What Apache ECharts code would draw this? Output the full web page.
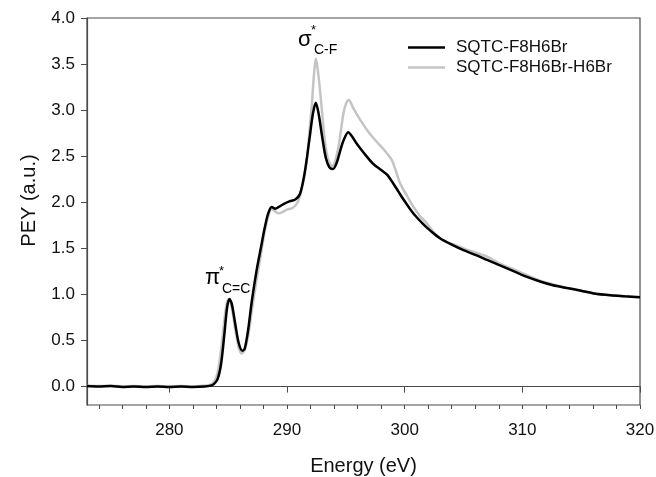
<!DOCTYPE html>
<html>
<head>
<meta charset="utf-8">
<script src="https://cdn.jsdelivr.net/npm/echarts@6/dist/echarts.min.js"></script>
<style>
html,body{margin:0;padding:0;background:#fff;}
#chart{width:656px;height:477px;}
</style>
</head>
<body>
<div id="chart"></div>
<script>
// ---- data ----
const seriesNames = ['SQTC-F8H6Br', 'SQTC-F8H6Br-H6Br'];

const energyA = [273.0,274.0,275.0,276.0,277.0,278.0,279.0,280.0,281.0,282.0,283.0,283.5,283.8,284.1,284.4,284.7,284.9,285.1,285.3,285.6,285.9,286.2,286.4,286.7,287.0,287.4,287.8,288.1,288.4,288.7,289.0,289.3,289.7,290.2,290.7,291.1,291.5,291.9,292.2,292.45,292.7,293.0,293.3,293.6,293.9,294.2,294.5,294.8,295.2,295.5,295.9,296.5,297.3,298.0,298.5,299.0,299.5,299.9,300.5,301.0,301.6,302.2,303.0,304.0,305.0,306.0,307.0,308.0,309.3,310.4,311.5,312.6,313.8,315.0,316.1,317.5,318.7,320.0];
const peyA = [0.005,0.0,0.005,-0.005,0.0,-0.005,0.0,-0.005,0.0,-0.005,0.0,0.01,0.03,0.08,0.25,0.60,0.85,0.95,0.90,0.68,0.47,0.39,0.41,0.62,0.92,1.25,1.52,1.72,1.88,1.95,1.93,1.95,1.98,2.01,2.03,2.09,2.32,2.68,2.96,3.08,2.95,2.70,2.48,2.38,2.36,2.42,2.55,2.67,2.76,2.72,2.64,2.54,2.42,2.35,2.30,2.21,2.11,2.03,1.92,1.84,1.76,1.69,1.61,1.54,1.48,1.43,1.375,1.32,1.25,1.19,1.14,1.10,1.07,1.04,1.01,0.99,0.98,0.97];

const energyB = [273.0,274.0,275.0,276.0,277.0,278.0,279.0,280.0,281.0,282.0,283.0,283.5,283.8,284.1,284.4,284.7,284.9,285.05,285.3,285.6,285.9,286.15,286.4,286.7,287.0,287.4,287.8,288.1,288.4,288.7,289.0,289.3,289.7,290.0,290.5,290.9,291.2,291.5,291.7,291.9,292.1,292.3,292.45,292.6,292.8,293.0,293.2,293.5,293.85,294.1,294.4,294.8,295.05,295.25,295.6,296.0,296.5,297.0,297.6,298.1,298.5,298.9,299.2,299.6,300.2,300.75,301.3,301.9,302.5,303.2,304.0,305.0,306.0,307.0,308.0,309.3,310.4,311.5,312.6,313.8,315.0,316.1,317.5,318.7,320.0];
const peyB = [0.01,0.005,0.01,0.0,0.005,0.0,0.005,0.0,0.005,0.0,0.01,0.02,0.05,0.15,0.40,0.75,0.92,0.95,0.86,0.62,0.42,0.36,0.40,0.55,0.82,1.15,1.45,1.68,1.85,1.93,1.90,1.88,1.90,1.92,1.94,2.00,2.12,2.30,2.48,2.76,3.04,3.40,3.56,3.45,3.22,2.95,2.68,2.46,2.39,2.45,2.62,2.97,3.08,3.11,3.03,2.94,2.84,2.75,2.66,2.59,2.53,2.46,2.36,2.21,2.07,1.95,1.85,1.77,1.67,1.59,1.55,1.50,1.455,1.41,1.34,1.27,1.21,1.15,1.11,1.07,1.04,1.01,0.99,0.98,0.97];

const xLabelValues = [280, 290, 300, 310, 320];
const xMinorTickValues = [274,276,278,280,282,284,286,288,290,292,294,296,298,300,302,304,306,308,310,312,314,316,318,320];
const yLabelValues = [0, 0.5, 1.0, 1.5, 2.0, 2.5, 3.0, 3.5, 4.0];

// ---- chart ----
const FONT = '"Liberation Sans", Arial, sans-serif';
const AXIS_COLOR = '#4a4a4a';
const pairs = (xs, ys) => xs.map((x, i) => [x, ys[i]]);

const chart = echarts.init(document.getElementById('chart'), null, {renderer: 'canvas'});
chart.setOption({
  animation: false,
  backgroundColor: '#fff',
  textStyle: {fontFamily: FONT},
  grid: {left: 87, right: 16, top: 18, bottom: 72, show: true, borderColor: AXIS_COLOR, borderWidth: 1.2,
    containLabel: false, outerBoundsMode: 'none'},
  legend: {
    data: seriesNames,
    orient: 'vertical',
    left: 408, top: 39,
    padding: 0,
    icon: 'rect',
    itemWidth: 37, itemHeight: 2.5, itemGap: 3,
    textStyle: {fontSize: 17, color: '#111', fontFamily: FONT, padding: [0, 0, 0, 6]}
  },
  xAxis: [{
    type: 'value', min: 273, max: 320,
    name: 'Energy (eV)', nameLocation: 'middle', nameGap: 51,
    nameTextStyle: {fontSize: 20, color: '#111', fontFamily: FONT},
    axisLine: {show: true, lineStyle: {color: AXIS_COLOR, width: 1.2}},
    axisTick: {show: true, inside: false, length: 6, customValues: xLabelValues, lineStyle: {color: AXIS_COLOR}},
    axisLabel: {customValues: xLabelValues, margin: 17, fontSize: 17, color: '#111', fontFamily: FONT},
    splitLine: {show: false}
  }, {
    type: 'value', min: 273, max: 320, position: 'bottom',
    axisLine: {show: false},
    axisTick: {show: true, inside: false, length: 4, customValues: xMinorTickValues, lineStyle: {color: AXIS_COLOR}},
    axisLabel: {show: false},
    splitLine: {show: false}
  }],
  yAxis: {
    type: 'value', min: -0.2, max: 4.0,
    name: 'PEY (a.u.)', nameLocation: 'middle', nameGap: 48, nameRotate: 90,
    nameTextStyle: {fontSize: 20, color: '#111', fontFamily: FONT, padding: [0, 0, 0, 22]},
    axisLine: {show: true, lineStyle: {color: AXIS_COLOR, width: 1.2}},
    axisTick: {show: true, inside: false, length: 6, customValues: yLabelValues, lineStyle: {color: AXIS_COLOR}},
    axisLabel: {customValues: yLabelValues, margin: 12, fontSize: 17, color: '#111', fontFamily: FONT,
      formatter: v => Number(v).toFixed(1)},
    splitLine: {show: false}
  },
  series: [{
    name: seriesNames[1], type: 'line', xAxisIndex: 0,
    data: pairs(energyB, peyB), showSymbol: false, symbol: 'none', smooth: 0.3,
    lineStyle: {color: '#c4c4c4', width: 2.5}, itemStyle: {color: '#c4c4c4'}, z: 2
  }, {
    name: seriesNames[0], type: 'line', xAxisIndex: 0,
    data: pairs(energyA, peyA), showSymbol: false, symbol: 'none', smooth: 0.3,
    lineStyle: {color: '#000', width: 2.5}, itemStyle: {color: '#000'}, z: 3
  }],
  graphic: [
    {type: 'text', left: 205, top: 267, style: {text: 'π', font: '22px ' + FONT, fill: '#000'}},
    {type: 'text', left: 219, top: 265, style: {text: '*', font: '13px ' + FONT, fill: '#000'}},
    {type: 'text', left: 222, top: 282, style: {text: 'C=C', font: '14px ' + FONT, fill: '#000'}},
    {type: 'text', left: 298, top: 29, style: {text: 'σ', font: '22px ' + FONT, fill: '#000'}},
    {type: 'text', left: 311, top: 24, style: {text: '*', font: '13px ' + FONT, fill: '#000'}},
    {type: 'text', left: 314, top: 43, style: {text: 'C-F', font: '14px ' + FONT, fill: '#000'}}
  ]
});
</script>
</body>
</html>
